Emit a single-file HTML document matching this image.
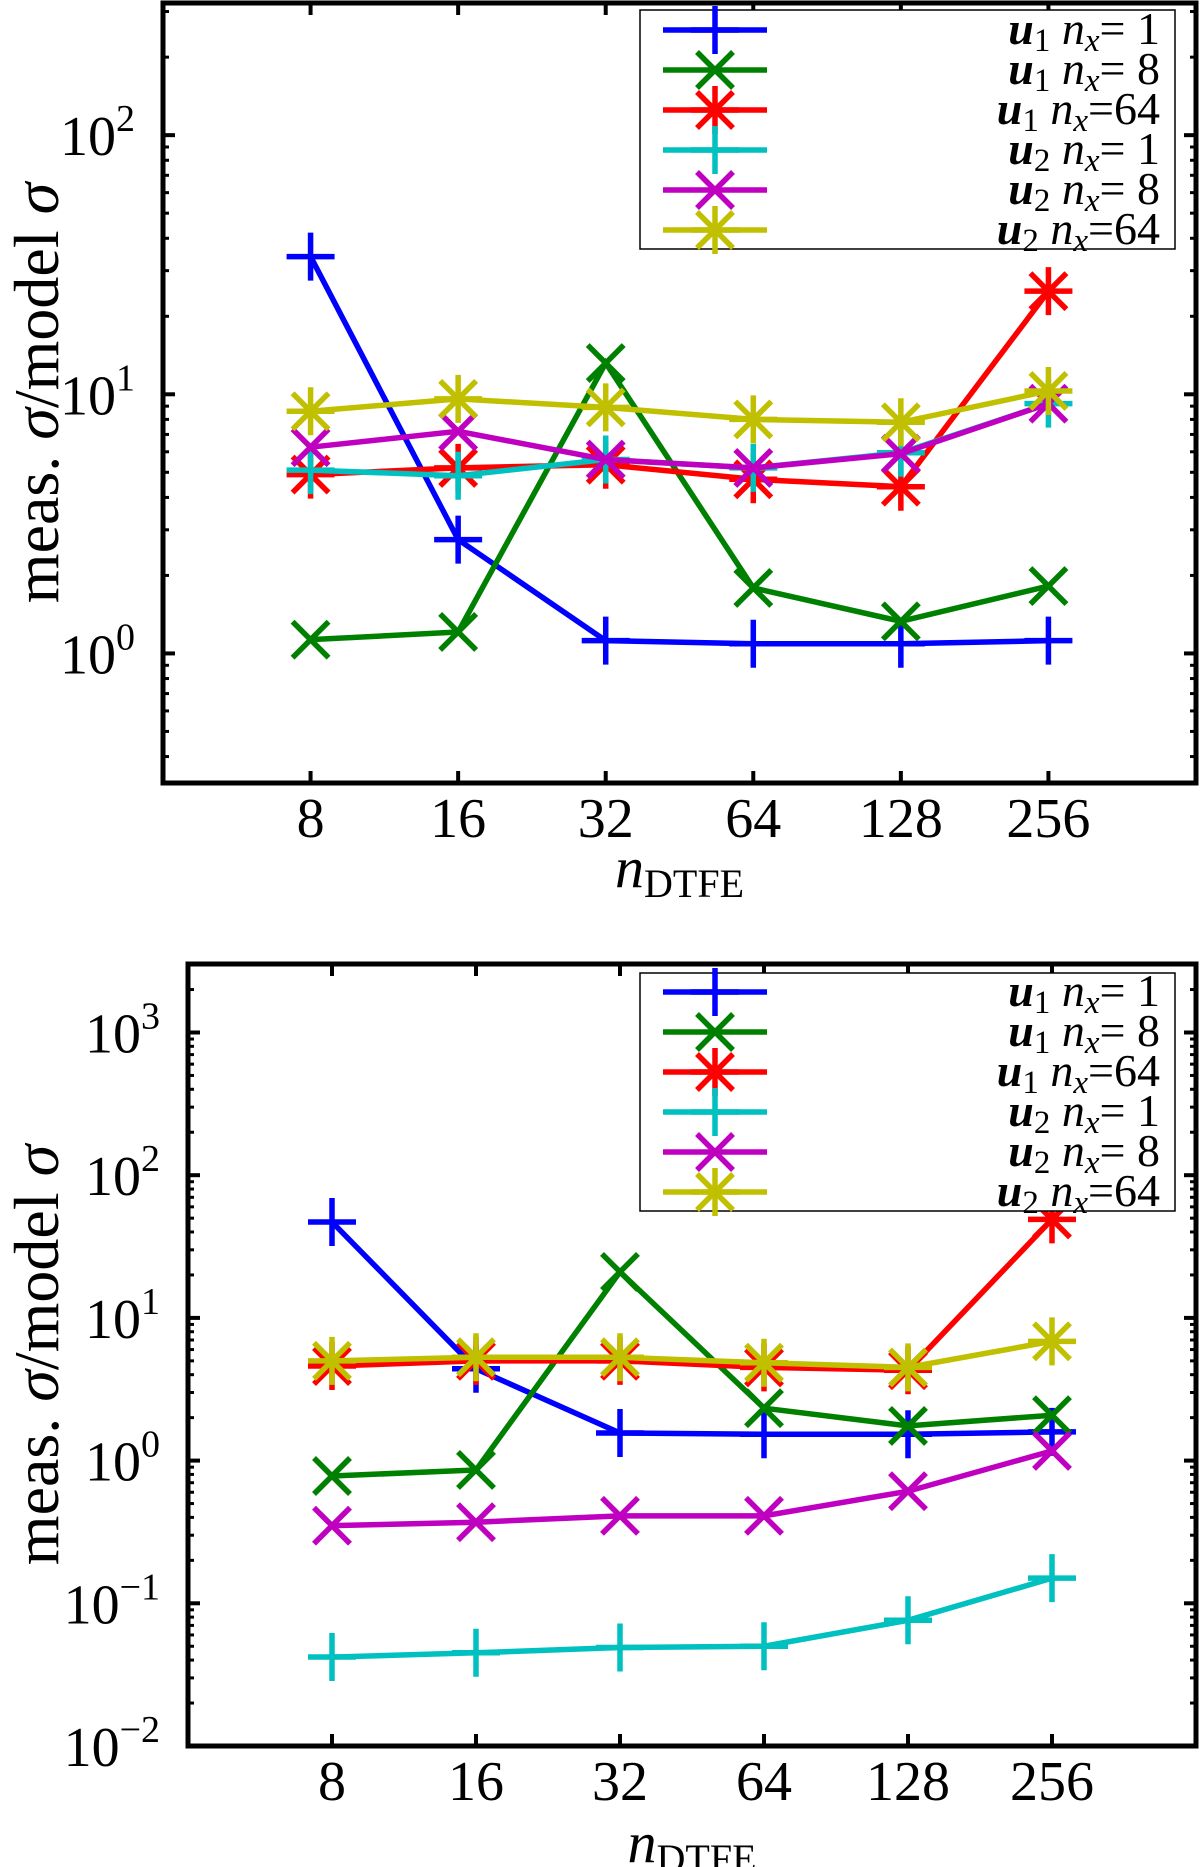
<!DOCTYPE html>
<html><head><meta charset="utf-8">
<style>
html,body{margin:0;padding:0;background:#fff;}
svg{display:block;}
svg text{font-family:"Liberation Serif","Times New Roman",serif;}
</style></head>
<body>
<svg id="fig" width="1200" height="1867" viewBox="0 0 1200 1867" xmlns="http://www.w3.org/2000/svg"></svg>
<script>
const categories = [8, 16, 32, 64, 128, 256];
const seriesLabels = ["1","8","64","1","8","64"];
const topU1n1 = [34, 2.75, 1.12, 1.09, 1.09, 1.12];
const topU1n8 = [1.13, 1.21, 13.2, 1.79, 1.33, 1.82];
const topU1n64 = [4.9, 5.2, 5.35, 4.7, 4.4, 25];
const topU2n1 = [5.1, 4.85, 5.6, 5.2, 5.95, 9.2];
const topU2n8 = [6.25, 7.2, 5.6, 5.2, 5.9, 9.2];
const topU2n64 = [8.6, 9.6, 8.9, 8.0, 7.8, 10.3];
const botU1n1 = [47, 4.4, 1.56, 1.53, 1.53, 1.59];
const botU1n8 = [0.78, 0.86, 21, 2.33, 1.75, 2.08];
const botU1n64 = [4.6, 5.0, 5.0, 4.5, 4.3, 49];
const botU2n1 = [0.042, 0.045, 0.049, 0.050, 0.076, 0.15];
const botU2n8 = [0.35, 0.37, 0.41, 0.41, 0.61, 1.17];
const botU2n64 = [5.0, 5.3, 5.3, 4.85, 4.5, 6.85];
const topYTicks = [0, 1, 2];
const botYTicks = [-2, -1, 0, 1, 2, 3];

const NS = "http://www.w3.org/2000/svg";
const svg = document.getElementById("fig");
function mk(tag, attrs, parent){const e=document.createElementNS(NS,tag);for(const k in attrs)e.setAttribute(k,attrs[k]);(parent||svg).appendChild(e);return e;}

const colors=["#0000ff","#008000","#ff0000","#00c0c0","#c000c0","#c0c000"];
const markers=["plus","cross","star","plus","cross","star"];
const units=["1","1","1","2","2","2"];

function marker(g,type,x,y,c){
  const s=24,d=18;
  const L=(x1,y1,x2,y2)=>mk("line",{x1,y1,x2,y2,stroke:c,"stroke-width":5.5},g);
  if(type==="plus"||type==="star"){L(x-s,y,x+s,y);L(x,y-s,x,y+s);}
  if(type==="cross"||type==="star"){L(x-d,y-d,x+d,y+d);L(x-d,y+d,x+d,y-d);}
}

function panel(name,box,yr,series,yTicks,leg,xlabY,ylabX){
  const g=mk("g",{});
  
  
  const [L,T,R,B]=box;
  const xs=v=>L+(Math.log2(v)-2)/7*(R-L);
  const ys=v=>B-(Math.log10(v)-yr[0])/(yr[1]-yr[0])*(B-T);
  const ysl=l=>B-(l-yr[0])/(yr[1]-yr[0])*(B-T);
  for(let dec=Math.floor(yr[0]);dec<yr[1];dec++){
    for(let m=2;m<10;m++){const l=dec+Math.log10(m);if(l<=yr[0]||l>=yr[1])continue;const y=ysl(l);
      mk("line",{x1:L,y1:y,x2:L+6,y2:y,stroke:"#000","stroke-width":3},g);
      mk("line",{x1:R,y1:y,x2:R-6,y2:y,stroke:"#000","stroke-width":3},g);}
  }
  yTicks.forEach(t=>{const y=ysl(t);
    mk("line",{x1:L,y1:y,x2:L+12,y2:y,stroke:"#000","stroke-width":4},g);
    mk("line",{x1:R,y1:y,x2:R-12,y2:y,stroke:"#000","stroke-width":4},g);
    const tx=mk("text",{x:L-28,y:y+20,"text-anchor":"end","font-size":56},g);
    
    
    tx.textContent="10";
    const sp=mk("tspan",{dy:-24,"font-size":38},tx);sp.textContent=t<0?"\u2212"+(-t):String(t);
  });
  categories.forEach(c=>{const x=xs(c);
    mk("line",{x1:x,y1:B,x2:x,y2:B-12,stroke:"#000","stroke-width":4},g);
    mk("line",{x1:x,y1:T,x2:x,y2:T+12,stroke:"#000","stroke-width":4},g);
    const tx=mk("text",{x:x,y:B+54,"text-anchor":"middle","font-size":56},g);
    
    
    tx.textContent=String(c);
  });
  series.forEach((vals,i)=>{
    const sg=mk("g",{},g);
    
    
    const pts=vals.map((v,j)=>xs(categories[j])+","+ys(v)).join(" ");
    mk("polyline",{points:pts,fill:"none",stroke:colors[i],"stroke-width":5.5},sg);
    vals.forEach((v,j)=>marker(sg,markers[i],xs(categories[j]),ys(v),colors[i]));
  });
  mk("rect",{x:L,y:T,width:R-L,height:B-T,fill:"none",stroke:"#000","stroke-width":5},g);
  const lg=mk("g",{},g);
  
  
  mk("rect",{x:640,y:leg[0],width:535,height:leg[1]-leg[0],fill:"#fff",stroke:"#000","stroke-width":1.5},lg);
  for(let i=0;i<6;i++){
    const y=leg[2]+i*leg[3];
    const eg=mk("g",{},lg);
    
    
    mk("line",{x1:663,y1:y,x2:767,y2:y,stroke:colors[i],"stroke-width":5.5},eg);
    marker(eg,markers[i],715,y,colors[i]);
    const tx=mk("text",{x:1160,y:y+14,"text-anchor":"end","font-size":46},eg);
    let t=mk("tspan",{"font-weight":"bold","font-style":"italic"},tx);t.textContent="u";
    t=mk("tspan",{"font-size":33,dy:7},tx);t.textContent=units[i];
    t=mk("tspan",{"font-style":"italic",dy:-7},tx);t.textContent=" n";
    t=mk("tspan",{"font-style":"italic","font-size":33,dy:7},tx);t.textContent="x";
    t=mk("tspan",{dy:-7},tx);t.textContent="="+(seriesLabels[i].length<2?" ":"")+seriesLabels[i];
  }
  const yl=mk("text",{x:0,y:0,"text-anchor":"middle","font-size":64,transform:`translate(${ylabX},${(T+B)/2}) rotate(-90)`},g);
  
  
  yl.textContent="meas. ";
  let s=mk("tspan",{"font-style":"italic"},yl);s.textContent="\u03c3";
  s=mk("tspan",{},yl);s.textContent="/model ";
  s=mk("tspan",{"font-style":"italic"},yl);s.textContent="\u03c3";
  const xl=mk("text",{x:(L+R)/2,y:xlabY,"text-anchor":"middle","font-size":58},g);
  
  
  s=mk("tspan",{"font-style":"italic"},xl);s.textContent="n";
  s=mk("tspan",{"font-size":40,dy:10},xl);s.textContent="DTFE";
}

panel("top-chart",[163,3,1196,783],[-0.5,2.51],[topU1n1,topU1n8,topU1n64,topU2n1,topU2n8,topU2n64],topYTicks,[10,249,30,40],887,58);
panel("bottom-chart",[188,964,1196,1746],[-2,3.48],[botU1n1,botU1n8,botU1n64,botU2n1,botU2n8,botU2n64],botYTicks,[973,1211,992,40],1862,58);
</script>
</body></html>
